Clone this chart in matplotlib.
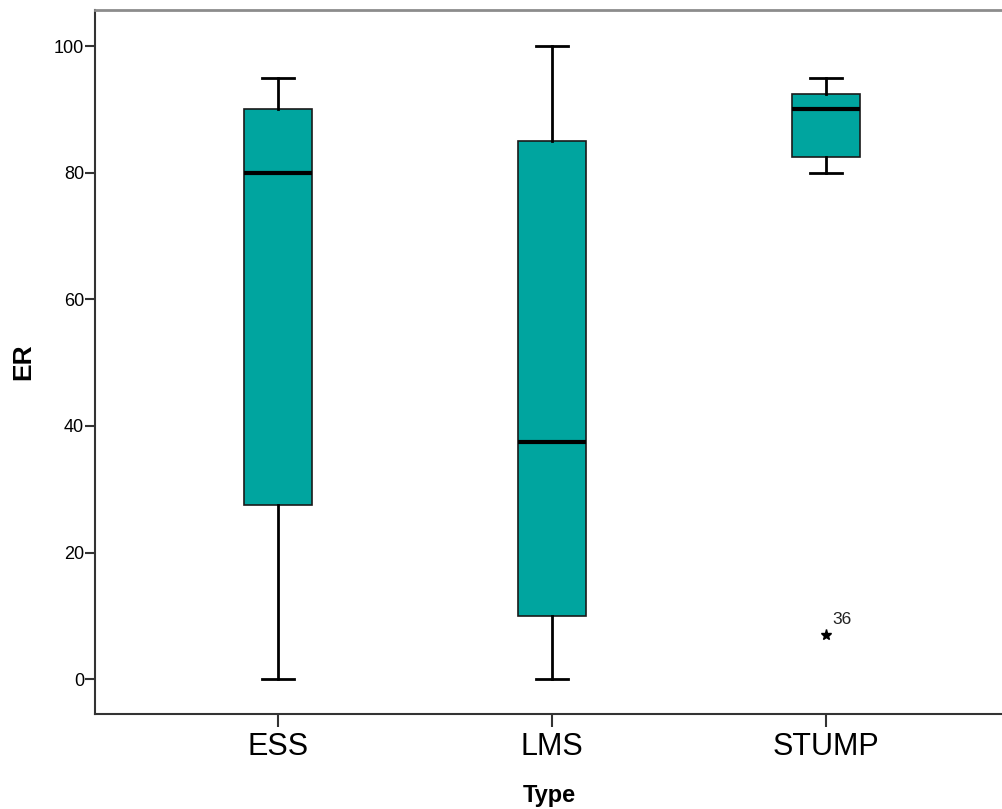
import matplotlib
matplotlib.use("Agg")
import matplotlib.pyplot as plt

categories = ["ESS", "LMS", "STUMP"]
whislo = [0, 0, 80]
q1 = [27.5, 10, 82.5]
med = [80, 37.5, 90]
q3 = [90, 85, 92.5]
whishi = [95, 100, 95]
outliers = [[], [], [7]]
outlier_labels = [[], [], ["36"]]
yticks = [0, 20, 40, 60, 80, 100]

plt.rcParams['font.family'] = ['Liberation Sans', 'DejaVu Sans']

fig = plt.figure(figsize=(10.03, 8.09), dpi=100)
ax = fig.add_axes([95/1003, (809-714)/809, 1 - 95/1003, (714-10)/809])

stats = []
for i, c in enumerate(categories):
    stats.append(dict(label=c, whislo=whislo[i], q1=q1[i], med=med[i],
                      q3=q3[i], whishi=whishi[i], fliers=outliers[i]))

positions = [1, 2, 3]
ax.bxp(stats, positions=positions, widths=0.25, patch_artist=True,
       showfliers=True,
       boxprops=dict(facecolor='#00A59F', edgecolor='#1a1a1a', linewidth=1.2),
       medianprops=dict(color='black', linewidth=3),
       whiskerprops=dict(color='black', linewidth=2),
       capprops=dict(color='black', linewidth=2),
       capwidths=0.12,
       flierprops=dict(marker='*', markerfacecolor='black', markeredgecolor='black',
                       markersize=8, linestyle='none'))

for i, (vals, labs) in enumerate(zip(outliers, outlier_labels)):
    for v, l in zip(vals, labs):
        ax.annotate(l, (positions[i], v), xytext=(4.5, 8), textcoords='offset points',
                    fontsize=12.5, color='#222222')

ax.set_xlim(1 - 183/274, 3 + 177/274)
ax.set_ylim(-5.5, 105.7)
ax.set_yticks(yticks)
ax.set_yticklabels([str(t) for t in yticks], fontsize=13)
ax.set_xticks(positions)
ax.set_xticklabels(categories, fontsize=22)
ax.tick_params(axis='y', direction='out', length=7, width=1.5, color='#333333', pad=1)
ax.tick_params(axis='x', direction='out', length=9, width=1.5, color='#333333', pad=4)

ax.spines['right'].set_visible(False)
ax.spines['top'].set_color('#8c8c8c')
ax.spines['top'].set_linewidth(2)
ax.spines['left'].set_color('#333333')
ax.spines['left'].set_linewidth(1.5)
ax.spines['bottom'].set_color('#333333')
ax.spines['bottom'].set_linewidth(1.5)

ax.set_ylabel("ER", fontsize=19, fontweight='bold', labelpad=13)
ax.set_xlabel("Type", fontsize=17, fontweight='bold', labelpad=16)

fig.savefig("out.png", dpi=100)
